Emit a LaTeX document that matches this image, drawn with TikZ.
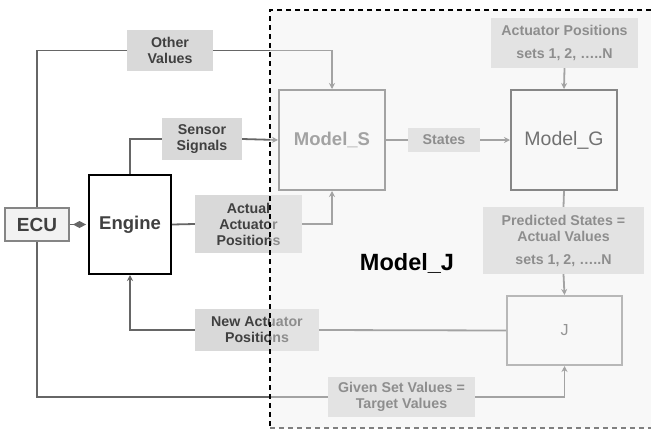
\documentclass[tikz,border=0pt]{standalone}
\usepackage{fontspec}
\setmainfont{Liberation Sans}
\usetikzlibrary{arrows.meta}
\definecolor{lblgray}{RGB}{217,217,217}
\definecolor{txt}{RGB}{64,64,64}
\definecolor{ln}{RGB}{102,102,102}
\definecolor{ovl}{RGB}{240,240,240}
\begin{document}
\begin{tikzpicture}[x=1pt,y=-1pt,
  lbl/.style={fill=lblgray, text=txt, font=\bfseries\fontsize{14.2}{16}\selectfont, align=center, inner sep=0pt},
  conn/.style={draw=ln, line width=1.8pt},
  arr/.style={conn, -{Stealth[length=6pt,width=6pt]}}
]
\useasboundingbox (0,0) rectangle (651,429);
\fill[white] (0,0) rectangle (651,429);

% blocks
\node[draw=ln!80, line width=2pt, fill=black!5, text=txt, font=\bfseries\fontsize{19}{22}\selectfont,
  minimum width=64pt, minimum height=33pt, inner sep=0pt] (ecu) at (37,224.5) {ECU};
\node[draw=black, line width=2pt, fill=white, text=txt, font=\bfseries\fontsize{18.5}{22}\selectfont,
  minimum width=82pt, minimum height=99pt, inner sep=0pt] (eng) at (130,224.5) {Engine};
\node[draw=ln, line width=2pt, fill=white, text=ln, font=\bfseries\fontsize{18.5}{20}\selectfont,
  minimum width=106pt, minimum height=100pt, inner sep=0pt] (ms) at (332,140) {Model\_S};
\node[draw=black!80, line width=2pt, fill=white, text=black!95, font=\fontsize{19.5}{22}\selectfont,
  minimum width=106pt, minimum height=100pt, inner sep=0pt] (mg) at (564,140) {Model\_G};
\node[draw=black!45, line width=2pt, fill=white, text=black!70, font=\fontsize{16}{18}\selectfont,
  minimum width=115pt, minimum height=69pt, inner sep=0pt] (jj) at (564.5,330.5) {J};

% labels
\node[lbl, minimum width=86pt, minimum height=41pt] (ov) at (170,50.5) {Other\\Values};
\node[lbl, minimum width=80pt, minimum height=42pt] (ss) at (202,139) {Sensor\\Signals};
\node[lbl, minimum width=107pt, minimum height=58pt] (aap) at (248.5,224) {Actual\\Actuator\\Positions};
\node[lbl, minimum width=124pt, minimum height=42pt] (nap) at (257,330) {New Actuator\\Positions};
\node[lbl, minimum width=72pt, minimum height=24pt] (st) at (444,140) {States};
\node[lbl, minimum width=147pt, minimum height=50pt] (aps) at (564.5,43) {Actuator Positions\\[7pt]sets 1, 2, …..N};
\node[lbl, minimum width=161pt, minimum height=67pt] (pr) at (563.5,240.5) {Predicted States =\\Actual Values\\[7pt]sets 1, 2, …..N};
\node[lbl, minimum width=147pt, minimum height=40pt] (gs) at (401.5,397) {Given Set Values =\\Target Values};

% connectors
\draw[conn] (ecu.north) |- (ov.west);
\draw[arr] (ov.east) -| (ms.north);
\draw[conn] (eng.north) |- (ss.west);
\draw[arr] (ss.east) -- (ms.west);
\draw[conn] (eng.east) -- (aap.west);
\draw[arr] (aap.east) -| (ms.south);
\draw[conn] (ms.east) -- (st.west);
\draw[arr] (st.east) -- (mg.west);
\draw[arr] (aps.south) -- (mg.north);
\draw[conn] (mg.south) -- (pr.north);
\draw[arr] (pr.south) -- (jj.north);
\draw[conn] (jj.west) -- (nap.east);
\draw[arr] (nap.west) -| (eng.south);
\draw[conn] (ecu.south) |- (gs.west);
\draw[arr] (gs.east) -| (jj.south);
\draw[draw=ln, line width=1.5pt, -{Diamond[length=13pt,width=7pt]}, shorten >=2pt] (ecu.east) -- (eng.west);

% overlay region
\fill[ovl, opacity=0.445] (270,10) rectangle (660,428);
\draw[black, line width=1.8pt, dash pattern=on 5pt off 4pt] (660,10) -- (270,10) -- (270,428);
\draw[black!50, line width=1.5pt, dash pattern=on 5pt off 4pt] (270,428) -- (660,428);

\node[font=\bfseries\fontsize{23.5}{26}\selectfont, text=black] (mj) at (407,263) {Model\_J};
\end{tikzpicture}
\end{document}
